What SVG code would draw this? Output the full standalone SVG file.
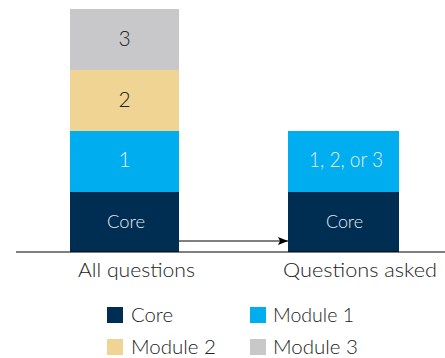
<svg xmlns="http://www.w3.org/2000/svg" width="445" height="358" viewBox="0 0 445 358">
<style>
text{font-family:Lato,"Noto Sans",sans-serif;font-weight:300;}
.lab{font-size:19px;}
.dig{font-size:21px;}
.cr{font-size:17px;}
.dark{fill:#222;}
.lt{fill:#e6ecf2;}
.core{fill:#002d52;}
.m1{fill:#00adee;}
.m2{fill:#f0d494;}
.m3{fill:#c8c8ca;}
</style>
<defs>
<marker id="ah" markerWidth="10" markerHeight="8" refX="10" refY="4" orient="auto" markerUnits="userSpaceOnUse">
<path d="M0,0 L10,4 L0,8 L2,4 z" fill="#000"/>
</marker>
</defs>
<g id="bar-all">
<rect class="m3" x="70" y="9" width="109" height="61"/>
<rect class="m2" x="70" y="70" width="109" height="61"/>
<rect class="m1" x="70" y="131" width="109" height="61"/>
<rect class="core" x="70" y="192" width="109" height="60"/>
<text class="dark dig" x="124.5" y="46" text-anchor="middle">3</text>
<text class="dark dig" x="124.5" y="107" text-anchor="middle">2</text>
<text class="lt dig" x="124.5" y="167" text-anchor="middle">1</text>
<text class="lt cr" x="107" y="228" textLength="38" lengthAdjust="spacingAndGlyphs">Core</text>
</g>
<g id="bar-asked">
<rect class="m1" x="288" y="131" width="111" height="61"/>
<rect class="core" x="288" y="192" width="111" height="60"/>
<text class="lt dig" x="309" y="167" textLength="74" lengthAdjust="spacingAndGlyphs">1, 2, or 3</text>
<text class="lt cr" x="326" y="228" textLength="37" lengthAdjust="spacingAndGlyphs">Core</text>
</g>
<g id="connectors">
<line x1="16" y1="252" x2="445" y2="252" stroke="#000" stroke-width="1"/>
<line x1="179" y1="241" x2="288" y2="241" stroke="#000" stroke-width="1.2" marker-end="url(#ah)"/>
</g>
<g id="labels">
<text class="dark lab" x="78" y="277" textLength="117" lengthAdjust="spacingAndGlyphs">All questions</text>
<text class="dark lab" x="283" y="277" textLength="154" lengthAdjust="spacingAndGlyphs">Questions asked</text>
</g>
<g id="legend">
<rect class="core" x="107" y="307" width="16" height="16"/>
<text class="dark lab" x="131" y="322" textLength="42" lengthAdjust="spacingAndGlyphs">Core</text>
<rect class="m1" x="250" y="307" width="16" height="16"/>
<text class="dark lab" x="273" y="322" textLength="81" lengthAdjust="spacingAndGlyphs">Module 1</text>
<rect class="m2" x="107" y="339" width="16" height="16"/>
<text class="dark lab" x="131" y="354" textLength="85" lengthAdjust="spacingAndGlyphs">Module 2</text>
<rect class="m3" x="250" y="339" width="16" height="16"/>
<text class="dark lab" x="273" y="354" textLength="85" lengthAdjust="spacingAndGlyphs">Module 3</text>
</g>
</svg>
